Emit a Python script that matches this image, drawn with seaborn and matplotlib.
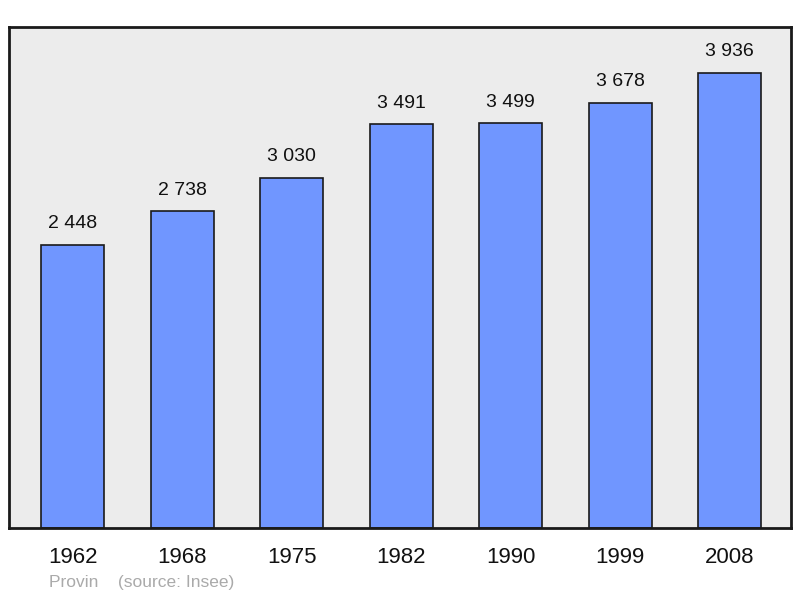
import pandas as pd
import seaborn as sns
import matplotlib.pyplot as plt

years = ["1962", "1968", "1975", "1982", "1990", "1999", "2008"]
population = [2448, 2738, 3030, 3491, 3499, 3678, 3936]
value_labels = ["2 448", "2 738", "3 030", "3 491", "3 499", "3 678", "3 936"]

df = pd.DataFrame({"year": years, "pop": population})

sns.set_style("white")
plt.rcParams['font.family'] = ['Liberation Sans', 'DejaVu Sans']

fig = plt.figure(figsize=(8, 5.98), dpi=100)
ax = fig.add_axes([0.01125, 0.117, 0.9775, 0.838])
ax.set_facecolor("#ececec")

sns.barplot(data=df, x="year", y="pop", color="#7096ff", saturation=1,
            width=0.575, edgecolor="#1a1a1a", linewidth=1.2, ax=ax)

for i, (v, lab) in enumerate(zip(population, value_labels)):
    ax.annotate(lab, (i, v), xytext=(0, 9), textcoords="offset points",
                ha="center", va="bottom", fontsize=14, color="#111111")

ax.set_xlim(-0.584, 6.56)
ax.set_ylim(0, 4334)
ax.set_yticks([])
ax.set_xlabel("")
ax.set_ylabel("")
ax.tick_params(axis="x", length=0, labelsize=16, pad=14, colors="#111111")
for s in ax.spines.values():
    s.set_visible(True)
    s.set_color("#1a1a1a")
    s.set_linewidth(2)

fig.text(49 / 800, 1 - 583 / 598, "Provin    (source: Insee)", fontsize=12.5,
         color="#aaaaaa", ha="left", va="center")

fig.savefig("out.png", dpi=100)
